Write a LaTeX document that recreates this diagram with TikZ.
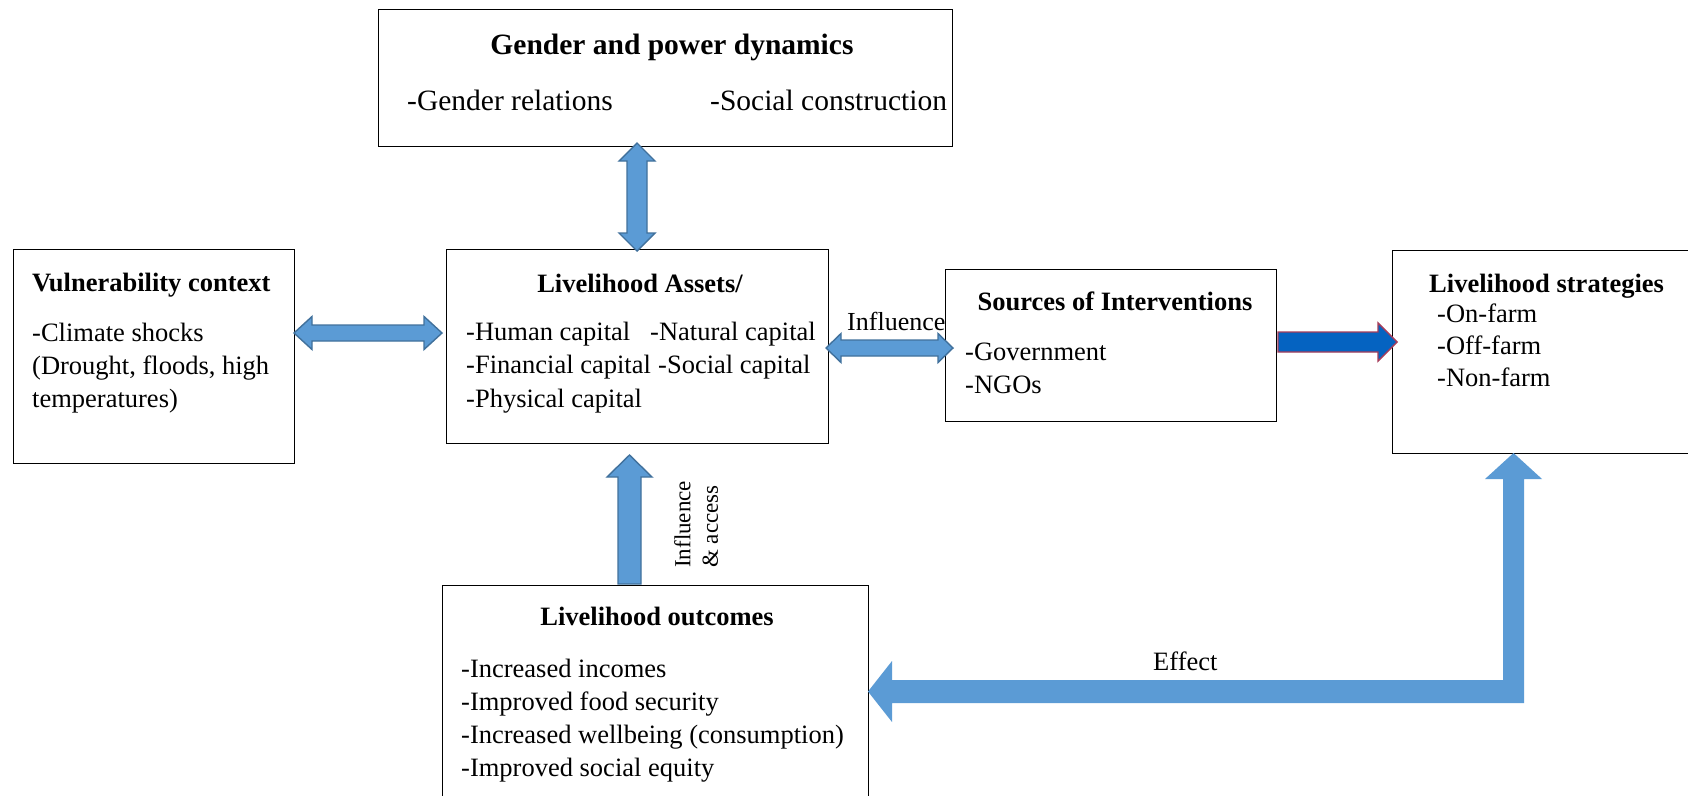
\documentclass[tikz,border=0pt]{standalone}
\usepackage{fontspec}
\setmainfont{Liberation Serif}
\definecolor{ablue}{RGB}{91,155,213}
\definecolor{aedge}{RGB}{65,113,156}
\definecolor{dblue}{RGB}{5,99,193}
\definecolor{dedge}{RGB}{166,61,90}
\newcommand{\fz}[2]{\fontsize{#1pt}{#2pt}\selectfont}
\tikzset{
  box/.style={draw=black, line width=1.3pt, fill=white, inner sep=0pt, anchor=north west},
  txt/.style={inner sep=0pt, anchor=base west, font=\fz{26.5}{31}},
  ttl/.style={inner sep=0pt, anchor=base, font=\fz{26.5}{31}\bfseries},
  barrow/.style={fill=ablue, draw=aedge, line width=1.4pt, line join=miter},
  effarrow/.style={fill=ablue, draw=none},
  darrow/.style={fill=dblue, draw=dedge, line width=1.4pt, line join=miter}
}
\begin{document}
\begin{tikzpicture}[x=1pt,y=-1pt]
\useasboundingbox (0,0) rectangle (1688,795);
\clip (0,0) rectangle (1688,795);
\fill[white] (0,0) rectangle (1688,795);

% boxes
\node[box, minimum width=574pt, minimum height=137pt] (gender) at (378,9) {};
\node[box, minimum width=281pt, minimum height=214pt] (vuln) at (13,249) {};
\node[box, minimum width=382pt, minimum height=194pt] (assets) at (446,249) {};
\node[box, minimum width=331pt, minimum height=152pt] (sources) at (945,269) {};
\node[box, minimum width=320pt, minimum height=203pt] (strat) at (1392,250) {};
\node[box, minimum width=426pt, minimum height=240pt] (outcomes) at (442,585) {};

% gender <-> assets
\filldraw[barrow] (637,143) -- (655,161) -- (647,161) -- (647,233) -- (655,233) -- (637,251)
  -- (619,233) -- (627,233) -- (627,161) -- (619,161) -- cycle;
% vulnerability <-> assets
\filldraw[barrow] (294,333) -- (312,316.5) -- (312,325) -- (424,325) -- (424,316.5) -- (442,333)
  -- (424,349.5) -- (424,341) -- (312,341) -- (312,349.5) -- cycle;
% assets <-> sources
\filldraw[barrow] (826,348) -- (841,333.5) -- (841,340) -- (938,340) -- (938,333.5) -- (953,348)
  -- (938,362.5) -- (938,356) -- (841,356) -- (841,362.5) -- cycle;
% sources -> strategies
\filldraw[darrow] (1278,332) -- (1378,332) -- (1378,323) -- (1397,342) -- (1378,361) -- (1378,352)
  -- (1278,352) -- cycle;
% outcomes -> assets
\filldraw[barrow] (629.5,455) -- (652,477) -- (641,477) -- (641,584) -- (618,584) -- (618,477)
  -- (607,477) -- cycle;
% effect arrow strategies -> outcomes
\fill[effarrow] (868,691.5) -- (892,661) -- (892,680) -- (1503,680) -- (1503,479) -- (1485,479)
  -- (1513.5,453) -- (1542,479) -- (1524,479) -- (1524,703) -- (892,703) -- (892,722) -- cycle;

% texts: gender
\node[ttl, font=\fz{29.5}{34}\bfseries] (gt) at (672,54) {Gender and power dynamics};
\node[txt, font=\fz{29.5}{34}] (g1) at (407,110) {-Gender relations};
\node[txt, font=\fz{29.5}{34}] (g2) at (710,110) {-Social construction};
% vulnerability
\node[txt, font=\fz{26.5}{31}\bfseries] (vt) at (32,291) {Vulnerability context};
\node[txt] (v1) at (32,341) {-Climate shocks};
\node[txt] (v2) at (32,374) {(Drought, floods, high};
\node[txt] (v3) at (32,407) {temperatures)};
% assets
\node[ttl] (at) at (640,292) {Livelihood Assets/};
\node[txt] (a1) at (466,340) {-Human capital};
\node[txt] (a2) at (650,340) {-Natural capital};
\node[txt] (a3) at (466,373.5) {-Financial capital};
\node[txt] (a4) at (658,373.5) {-Social capital};
\node[txt] (a5) at (466,407) {-Physical capital};
% sources
\node[ttl] (st) at (1115,310) {Sources of Interventions};
\node[txt] (s1) at (965,360) {-Government};
\node[txt] (s2) at (965,393) {-NGOs};
% strategies
\node[txt, font=\fz{26.5}{31}\bfseries] (lt) at (1429,292) {Livelihood strategies};
\node[txt] (l1) at (1437,322) {-On-farm};
\node[txt] (l2) at (1437,354) {-Off-farm};
\node[txt] (l3) at (1437,386) {-Non-farm};
% outcomes
\node[ttl] (ot) at (657,625) {Livelihood outcomes};
\node[txt] (o1) at (461,677) {-Increased incomes};
\node[txt] (o2) at (461,710) {-Improved food security};
\node[txt] (o3) at (461,743) {-Increased wellbeing (consumption)};
\node[txt] (o4) at (461,776) {-Improved social equity};
% connector labels
\node[txt, font=\fz{26}{30}] (infl) at (847,330) {Influence};
\node[txt] (eff) at (1153,670) {Effect};
\node[inner sep=0pt, rotate=90, anchor=north west, align=left, font=\fz{23}{27.5}] (inflacc) at (674,568) {Influence\\\& access};
\end{tikzpicture}
\end{document}
